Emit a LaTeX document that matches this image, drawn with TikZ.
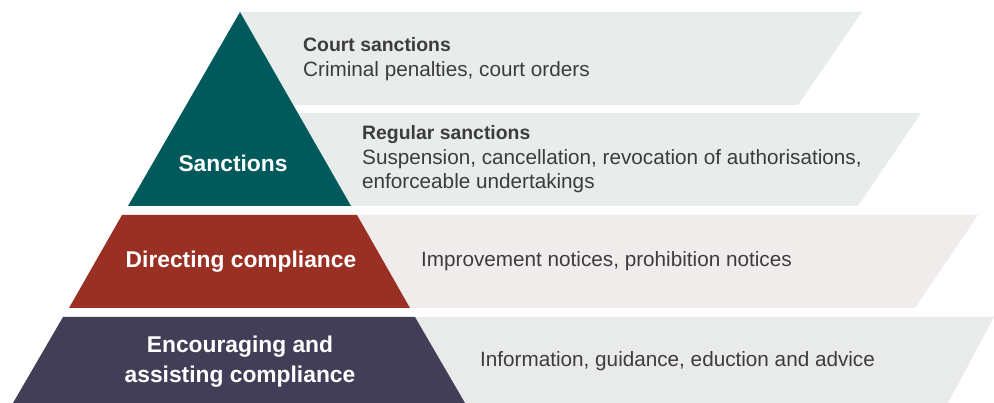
\documentclass[tikz,border=0pt]{standalone}
\usepackage{fontspec}
\setmainfont{Liberation Sans}
\definecolor{teal1}{HTML}{005A5C}
\definecolor{red1}{HTML}{9A3024}
\definecolor{purple1}{HTML}{433E58}
\definecolor{bandg}{HTML}{E8ECEB}
\definecolor{bandr}{HTML}{F0ECEB}
\definecolor{bandp}{HTML}{E9EBEB}
\definecolor{txt}{HTML}{3C3C3C}
\tikzset{
  desc/.style={anchor=base west, inner sep=0pt, text=txt, font=\fontsize{20.7}{24}\selectfont, align=left},
  deschead/.style={desc, font=\bfseries\fontsize{19.4}{24}\selectfont},
  lvl/.style={anchor=base, inner sep=0pt, text=white, font=\bfseries\fontsize{22.8}{30}\selectfont, align=center},
}
\begin{document}
\begin{tikzpicture}[x=1pt,y=-1pt]
\useasboundingbox (0,0) rectangle (994,403);
% bands
\fill[bandg] (240,12) -- (862,12) -- (798,105) -- (240,105) -- cycle;
\fill[bandg] (296,113) -- (921,113) -- (858,206) -- (296,206) -- cycle;
\fill[bandr] (357,215) -- (978,215) -- (915,308) -- (357,308) -- cycle;
\fill[bandp] (415,317) -- (994,317) -- (948,403) -- (415,403) -- cycle;
% pyramid
\fill[teal1] (240,12) -- (351,206) -- (128,206) -- cycle;
\fill[red1] (122,215) -- (357,215) -- (410,308) -- (69,308) -- cycle;
\fill[purple1] (63,317) -- (415,317) -- (465,403) -- (13,403) -- cycle;
% level labels
\node[lvl] (sanc) at (233,172) {Sanctions};
\node[lvl] (dir) at (241,268) {Directing compliance};
\node[lvl] (enc1) at (240,353) {Encouraging and};
\node[lvl] (enc2) at (240,383) {assisting compliance};
% descriptions
\node[deschead] (court) at (303,52) {Court sanctions};
\node[desc] (courtd) at (303,77) {Criminal penalties, court orders};
\node[deschead] (reg) at (362,140) {Regular sanctions};
\node[desc] (regd1) at (362,165) {Suspension, cancellation, revocation of authorisations,};
\node[desc] (regd2) at (362,189) {enforceable undertakings};
\node[desc] (impr) at (421,267) {Improvement notices, prohibition notices};
\node[desc] (info) at (480,367) {Information, guidance, eduction and advice};
\end{tikzpicture}
\end{document}
